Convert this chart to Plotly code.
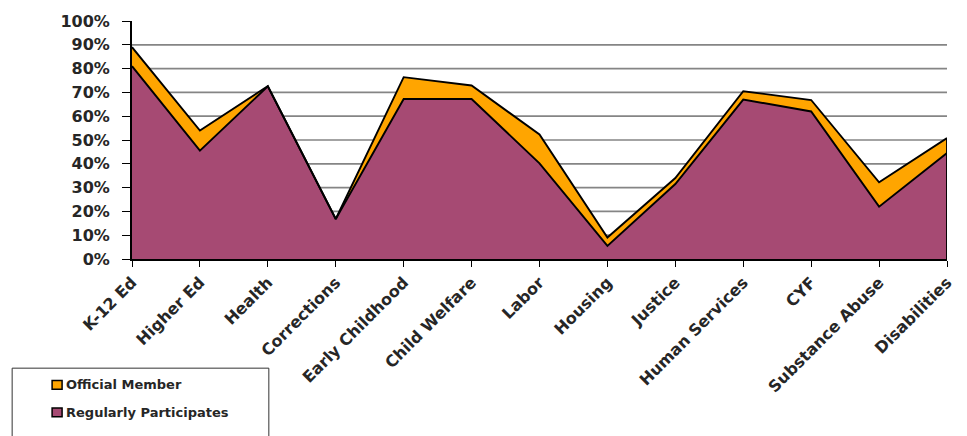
import plotly.graph_objects as go

# Participation by policy area (percent of respondents)
categories = ["K-12 Ed", "Higher Ed", "Health", "Corrections", "Early Childhood",
              "Child Welfare", "Labor", "Housing", "Justice", "Human Services",
              "CYF", "Substance Abuse", "Disabilities"]
regularly_participates = [81, 45.5, 72.6, 16.8, 67.2, 67.2, 40.2, 5.5, 31.5, 67, 62, 22, 44.5]
official_member = [8, 8.5, 0, 0, 9.2, 5.7, 12.1, 3.5, 2.5, 3.5, 4.8, 10.2, 6.3]
y_ticks = [0, 10, 20, 30, 40, 50, 60, 70, 80, 90, 100]
grid_values = [10, 20, 30, 40, 50, 60, 70, 80, 90]

PURPLE = "#A64A73"
ORANGE = "#FFA500"
TEXT = "#262626"
AXIS_FONT = dict(family="DejaVu Sans", size=16, color=TEXT, weight="bold")

W, H = 967, 436
L, R, T, B = 132, 19, 17, 177


def px_x(p):
    return (p - L) / (W - L - R)


def px_y(p):
    return (H - B - p) / (H - T - B)


fig = go.Figure()
fig.add_trace(go.Scatter(
    x=categories, y=regularly_participates, name="Regularly Participates",
    stackgroup="s", mode="lines", fillcolor=PURPLE,
    line=dict(color="black", width=1.9), showlegend=False))
fig.add_trace(go.Scatter(
    x=categories, y=official_member, name="Official Member",
    stackgroup="s", mode="lines", fillcolor=ORANGE,
    line=dict(color="black", width=1.9), showlegend=False))

shapes = []
for g in grid_values:
    shapes.append(dict(type="line", xref="paper", yref="y", x0=0, x1=1, y0=g, y1=g,
                       line=dict(color="#858585", width=1.7), layer="below"))

# closing edge of the stacked area on the right
top_last = regularly_participates[-1] + official_member[-1]
shapes.append(dict(type="line", xref="x", yref="y", x0=categories[-1], x1=categories[-1],
                   y0=0, y1=top_last, line=dict(color="black", width=1.9)))

# legend frame and swatches
shapes.append(dict(type="rect", xref="paper", yref="paper",
                   x0=px_x(12), x1=px_x(269), y0=px_y(370), y1=px_y(450),
                   line=dict(color="#333333", width=1)))
legend_items = [("Official Member", ORANGE, 387), ("Regularly Participates", PURPLE, 415)]
annotations = []
for label, color, cy in legend_items:
    shapes.append(dict(type="rect", xref="paper", yref="paper",
                       x0=px_x(52), x1=px_x(62), y0=px_y(cy - 4.5), y1=px_y(cy + 4.5),
                       fillcolor=color, line=dict(color="black", width=1.5)))
    annotations.append(dict(text=label, xref="paper", yref="paper",
                            x=px_x(64), y=px_y(cy), xanchor="left", yanchor="middle",
                            showarrow=False,
                            font=dict(family="DejaVu Sans", size=13, color=TEXT,
                                      weight="bold")))

fig.update_layout(
    width=W, height=H,
    margin=dict(l=L, r=R, t=T, b=B),
    paper_bgcolor="white", plot_bgcolor="white",
    shapes=shapes, annotations=annotations,
    xaxis=dict(type="category", range=[0, len(categories) - 1], tickangle=-45,
               showline=True, linecolor="black", linewidth=1.8,
               ticks="outside", ticklen=6, tickcolor="black", tickwidth=1,
               showgrid=False, tickfont=AXIS_FONT),
    yaxis=dict(range=[0, 100], tickvals=y_ticks, ticktext=[f"{v}%" for v in y_ticks],
               showline=True, linecolor="black", linewidth=1.8,
               ticks="outside", ticklen=8, tickcolor="black", tickwidth=1,
               showgrid=False, zeroline=False, tickfont=AXIS_FONT,
               ticklabelstandoff=9),
)

fig.write_html("out.html")
